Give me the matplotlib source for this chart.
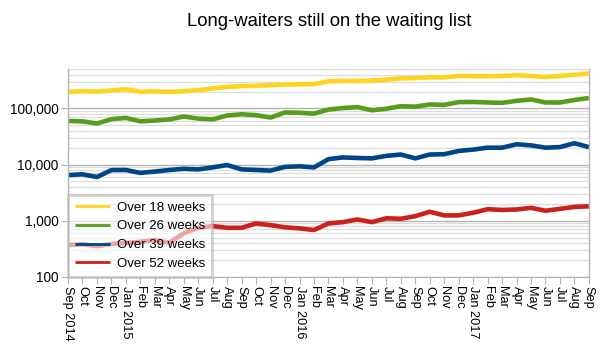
import matplotlib
matplotlib.use("Agg")
import matplotlib.pyplot as plt
from matplotlib.ticker import FixedLocator, FuncFormatter, LogLocator, NullFormatter

plt.rcParams['font.family'] = ['Liberation Sans', 'DejaVu Sans']

months = ["Sep 2014", "Oct", "Nov", "Dec", "Jan 2015", "Feb", "Mar", "Apr", "May", "Jun",
          "Jul", "Aug", "Sep", "Oct", "Nov", "Dec", "Jan 2016", "Feb", "Mar", "Apr", "May",
          "Jun", "Jul", "Aug", "Sep", "Oct", "Nov", "Dec", "Jan 2017", "Feb", "Mar", "Apr",
          "May", "Jun", "Jul", "Aug", "Sep"]

over18 = [198000, 203000, 200000, 210000, 221000, 199000, 203000, 198000, 203000, 213000,
          228000, 243000, 250000, 255000, 260000, 268000, 270000, 270000, 307000, 310000,
          310000, 315000, 328000, 343000, 350000, 360000, 360000, 380000, 378000, 375000,
          380000, 392000, 380000, 366000, 380000, 400000, 421000]
over26 = [60000, 59000, 54000, 64500, 68000, 59000, 61000, 63800, 72000, 66000,
          64000, 75000, 79000, 76000, 69000, 85000, 84000, 81000, 95600, 102000,
          106000, 93000, 99000, 110000, 108000, 118000, 116000, 130000, 131000, 128000,
          126000, 137000, 145000, 128000, 128000, 142000, 154000]
over39 = [6500, 6700, 6000, 7960, 8000, 7100, 7500, 8000, 8400, 8200,
          8900, 9800, 8200, 8000, 7800, 9100, 9300, 8900, 12500, 13400,
          13100, 12900, 14300, 15100, 12900, 15100, 15300, 17500, 18500, 20000,
          20000, 23000, 22000, 20000, 20500, 24000, 20500]
over52 = [367, 380, 350, 383, 400, 420, 450, 404, 594, 745,
          800, 745, 745, 890, 830, 760, 727, 680, 890, 940,
          1050, 940, 1100, 1080, 1200, 1440, 1240, 1240, 1380, 1600,
          1550, 1580, 1690, 1500, 1620, 1760, 1800]

series = [("Over 18 weeks", over18, "#ffd320"),
          ("Over 26 weeks", over26, "#579d1c"),
          ("Over 39 weeks", over39, "#004586"),
          ("Over 52 weeks", over52, "#c9211e")]

fig = plt.figure(figsize=(6.04, 3.54), dpi=100)
ax = fig.add_axes([0.1126, 0.2184, 0.8624, 0.5858])

x = list(range(len(months)))
for label, vals, color in series:
    ax.plot(x, vals, color=color, lw=3.3, label=label, solid_joinstyle='round',
            solid_capstyle='butt')

ax.set_yscale('log')
ax.set_ylim(100, 500000)
ax.set_xlim(0, len(months) - 1)

ax.yaxis.set_major_locator(FixedLocator([100, 1000, 10000, 100000]))
ax.yaxis.set_major_formatter(FuncFormatter(lambda v, p: f"{int(round(v)):,}"))
ax.yaxis.set_minor_locator(LogLocator(base=10, subs=range(2, 10)))
ax.yaxis.set_minor_formatter(NullFormatter())

ax.set_xticks(x)
ax.set_xticklabels(months, rotation=270, va='top', ha='center', fontsize=9.2)
ax.tick_params(axis='x', length=5, color='#b3b3b3', pad=2)
ax.tick_params(axis='y', which='major', length=5, color='#b3b3b3', labelsize=9.8, pad=2)
ax.tick_params(axis='y', which='minor', length=0)

ax.grid(True, which='major', axis='y', color='#b3b3b3', lw=1.0)
ax.grid(True, which='minor', axis='y', color='#dddddd', lw=0.9)
ax.set_axisbelow(True)

for side in ['left', 'right']:
    ax.spines[side].set_color('#b3b3b3')
    ax.spines[side].set_linewidth(1.0)
ax.spines['top'].set_visible(False)
ax.spines['bottom'].set_color('#b3b3b3')

leg = ax.legend(loc='lower left', bbox_to_anchor=(0, 0), borderaxespad=0,
                fontsize=9.5, frameon=True, fancybox=False, framealpha=0.6,
                edgecolor='#b3b3b3', handlelength=2.7, handletextpad=0.5,
                labelspacing=0.5, borderpad=0.5)
leg.get_frame().set_linewidth(2.0)
for line in leg.get_lines():
    line.set_linewidth(2.0)

fig.text(0.545, 0.94, "Long-waiters still on the waiting list", ha='center', va='center',
         fontsize=13.3)

fig.savefig("out.png", dpi=100)
